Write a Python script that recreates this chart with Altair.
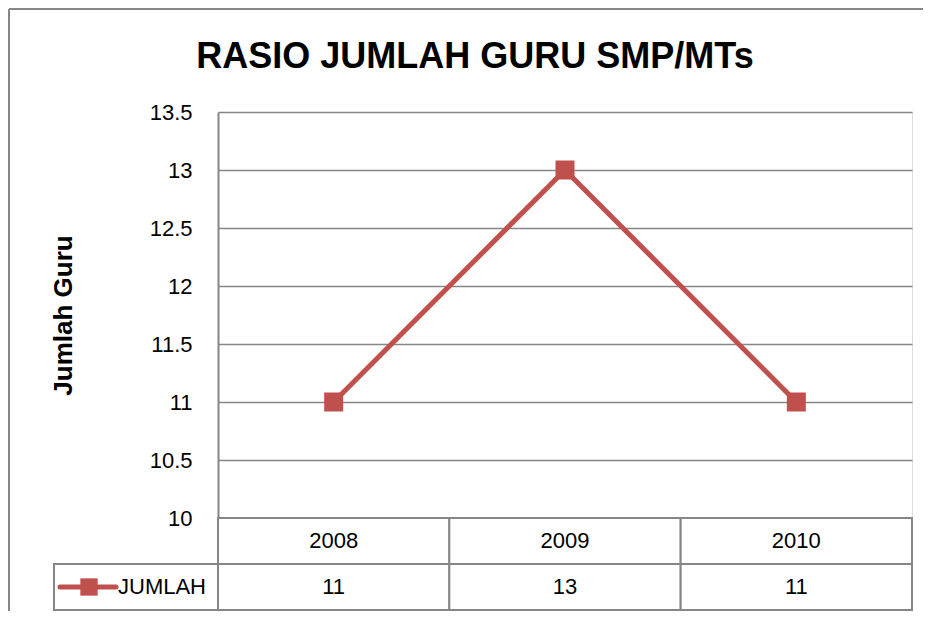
import altair as alt
import pandas as pd

# ---- data ----
years = ["2008", "2009", "2010"]
values = [11, 13, 11]
series_name = "JUMLAH"
y_ticks = [10, 10.5, 11, 11.5, 12, 12.5, 13, 13.5]
title_text = "RASIO JUMLAH GURU SMP/MTs"
y_title = "Jumlah Guru"

RED = "#C0504D"
GRAY = "#868686"
FONT = "Liberation Sans"

df_main = pd.DataFrame({"year": years, "value": values})
rows = ["year", series_name]
table_records = []
for yr, v in zip(years, values):
    table_records.append({"year": yr, "row": "year", "label": yr})
    table_records.append({"year": yr, "row": series_name, "label": str(v)})
df_table = pd.DataFrame(table_records)
df_legend = pd.DataFrame({"row": [series_name], "name": [series_name]})
df_title = pd.DataFrame({"title": [title_text]})

W, H = 694, 406
PAD_R, PAD_B = 11, 93

x_enc = alt.X("year:N", sort=years, axis=None,
              scale=alt.Scale(type="band", domain=years, paddingInner=0, paddingOuter=0))

y_main = alt.Y("value:Q",
               scale=alt.Scale(domain=[10, 13.5], nice=False, zero=False),
               axis=alt.Axis(values=y_ticks, format="~g", title=y_title,
                             grid=True, gridColor=GRAY, gridWidth=1.5,
                             domain=True, domainColor=GRAY, domainWidth=2,
                             ticks=False, labelPadding=26, labelFontSize=22,
                             labelFont=FONT, labelColor="black",
                             titleFont=FONT, titleFontSize=26, titleFontWeight="bold",
                             titleColor="black", titleX=-155, titleY=H / 2,
                             titleAngle=-90, titleBaseline="middle", titleAlign="center"))

line = alt.Chart(df_main).mark_line(color=RED, strokeWidth=5).encode(x=x_enc, y=y_main)
pts = alt.Chart(df_main).mark_point(shape="square", filled=True, size=361,
                                    color=RED, opacity=1).encode(x=x_enc, y=y_main)
main = alt.layer(line, pts)

y_tab_scale = alt.Scale(type="band", domain=rows, range=[H, H + 92],
                        paddingInner=0, paddingOuter=0)

cells = alt.Chart(df_table).mark_rect(fill="white", stroke=GRAY, strokeWidth=2).encode(
    x=x_enc, y=alt.Y("row:N", scale=y_tab_scale, axis=None))
cell_text = alt.Chart(df_table).mark_text(font=FONT, fontSize=22, color="black",
                                          baseline="middle", align="center").encode(
    x=alt.X("year:N", sort=years, axis=None, bandPosition=0.5,
            scale=alt.Scale(type="band", domain=years, paddingInner=0, paddingOuter=0)),
    y=alt.Y("row:N", scale=y_tab_scale, axis=None, bandPosition=0.5),
    text="label:N")
leg_cell = alt.Chart(df_legend).mark_rect(fill="white", stroke=GRAY, strokeWidth=2).encode(
    x=alt.value(-164), x2=alt.value(0),
    y=alt.Y("row:N", scale=y_tab_scale, axis=None))
leg_line = alt.Chart(df_legend).mark_rule(color=RED, strokeWidth=5, strokeCap="round").encode(
    x=alt.value(-158), x2=alt.value(-102),
    y=alt.Y("row:N", scale=y_tab_scale, axis=None, bandPosition=0.5))
leg_pt = alt.Chart(df_legend).mark_point(shape="square", filled=True, size=300,
                                         color=RED, opacity=1).encode(
    x=alt.value(-129),
    y=alt.Y("row:N", scale=y_tab_scale, axis=None, bandPosition=0.5))
leg_text = alt.Chart(df_legend).mark_text(font=FONT, fontSize=22, color="black",
                                          align="left", baseline="middle").encode(
    x=alt.value(-100),
    y=alt.Y("row:N", scale=y_tab_scale, axis=None, bandPosition=0.5),
    text="name:N")
table = alt.layer(cells, cell_text, leg_cell, leg_line, leg_pt, leg_text)

# outer chart-area border: left and top edges only are visible in the reference
border_left = alt.Chart(df_legend).mark_rule(color=GRAY, strokeWidth=2).encode(
    x=alt.value(-209), y=alt.value(-103), y2=alt.value(H + PAD_B))
border_top = alt.Chart(df_legend).mark_rule(color=GRAY, strokeWidth=2).encode(
    x=alt.value(-209), x2=alt.value(W + PAD_R), y=alt.value(-103))

title = alt.Chart(df_title).mark_text(font=FONT, fontSize=36, fontWeight="bold",
                                      color="black", align="center",
                                      baseline="alphabetic").encode(
    x=alt.value(257), y=alt.value(-44), text="title:N")

chart = alt.layer(border_left, border_top, title, main, table).resolve_scale(
    y="independent").properties(
    width=W, height=H,
    padding={"left": 210, "top": 104, "right": PAD_R, "bottom": PAD_B},
    autosize=alt.AutoSizeParams(type="none"),
).configure_view(stroke=None).configure(background="white")

chart.save("out.html", embed_options={"renderer": "svg", "actions": False})
